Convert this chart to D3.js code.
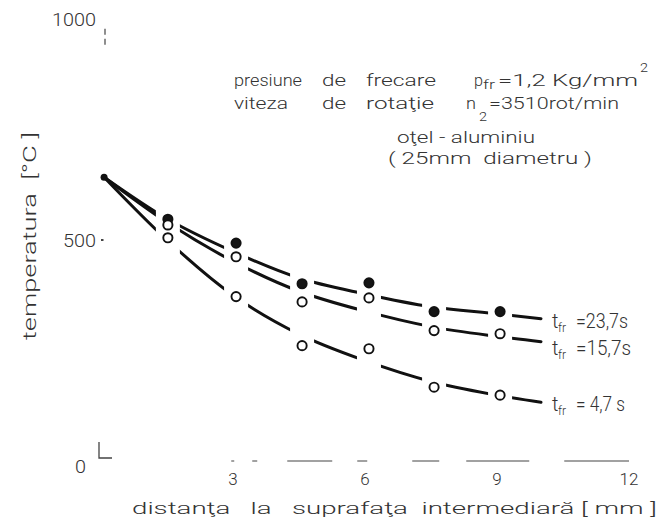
<!DOCTYPE html>
<html><head><meta charset="utf-8">
<script src="https://cdn.jsdelivr.net/npm/d3@7"></script>
<style>
body{margin:0;background:#fff}
svg{display:block}
text{font-family:Roboto,"Liberation Sans","DejaVu Sans",sans-serif;font-weight:300;fill:#333;white-space:pre}
</style>
</head><body>
<svg id="chart" width="661" height="530"></svg>
<script>
// distance from the interface surface, mm, where temperature was measured
const markerX = [1.52, 3.07, 4.57, 6.09, 7.57, 9.07];
// measured temperatures, °C, for each friction time
const measured237 = [547, 493, 401, 403, 338, 338];
const measured157 = [534, 462, 360, 369, 295, 288];
const measured47  = [505, 372, 261, 254, 167, 149];
// smoothed curves drawn through the measurements
const curveX    = [0.07, 1.5, 3, 4.5, 6, 7.5, 9, 10];
const fitted237 = [642, 548, 474, 414, 378, 349, 333, 322];
const fitted157 = [642, 540, 452, 384, 339, 304, 282, 270];
const fitted47  = [642, 500, 375, 287, 227, 180, 149, 133];
const seriesLabels = ["=23,7s", "=15,7s", "= 4,7 s"];
const xTickValues = [3, 6, 9, 12];
const yTickValues = [0, 500, 1000];

const svg = d3.select("#chart");
const x = d3.scaleLinear().domain([0, 12]).range([101, 629]);
const y = d3.scaleLinear().domain([0, 1000]).range([461, 19]);

const series = [
  {fit: fitted237, pts: measured237, filled: true,  label: seriesLabels[0], dy: 9,  tl: 52},
  {fit: fitted157, pts: measured157, filled: false, label: seriesLabels[1], dy: 13, tl: 55},
  {fit: fitted47,  pts: measured47,  filled: false, label: seriesLabels[2], dy: 9,  tl: 49}
];

// ---- axes (faint, broken as on the printed plate) ----
const ax = svg.append("g").attr("stroke", "#444").attr("fill", "none");
// x axis baseline, fragmented
ax.append("line")
  .attr("x1", x(2.96)).attr("x2", x(12)).attr("y1", y(0)).attr("y2", y(0))
  .attr("stroke-width", 1.2)
  .attr("stroke-dasharray", "3,18,5,30,45,25,10,45,27,27,63,35,65");
// origin corner
ax.append("path")
  .attr("d", `M${x(0) - 2},${y(0) - 19}V${y(0) - 3}H${x(0) + 11}`)
  .attr("stroke-width", 1.3);
// y axis fragments near the 1000 and 500 ticks
ax.append("line")
  .attr("x1", x(0) + 4).attr("x2", x(0) + 4)
  .attr("y1", y(978)).attr("y2", y(938))
  .attr("stroke-width", 1.2).attr("stroke-dasharray", "6,4");
ax.append("line")
  .attr("x1", x(0)).attr("x2", x(0) + 2.5)
  .attr("y1", y(500)).attr("y2", y(500)).attr("stroke-width", 2);

// tick labels
svg.append("g").selectAll("text").data(xTickValues).join("text")
  .attr("x", d => x(d)).attr("y", y(0) + 24)
  .attr("text-anchor", "middle").attr("font-size", 17)
  .text(d => d);
const yLab = svg.append("g").selectAll("text").data(yTickValues).join("text")
  .attr("x", d => d === 0 ? x(0) - 15 : x(0) - 5)
  .attr("y", d => y(d) + (d === 0 ? 12 : 7))
  .attr("text-anchor", "end").attr("font-size", 19)
  .text(d => d);
yLab.each(function (d) {
  d3.select(this).attr("textLength", String(d).length * 11).attr("lengthAdjust", "spacingAndGlyphs");
});

// axis titles
svg.append("text")
  .attr("transform", "translate(36,236) rotate(-90)")
  .attr("text-anchor", "middle").attr("font-size", 18)
  .attr("textLength", 208).attr("lengthAdjust", "spacingAndGlyphs")
  .text("temperatura  [°C ]");
svg.append("text")
  .attr("x", 132).attr("y", 514).attr("font-size", 17)
  .attr("textLength", 525).attr("lengthAdjust", "spacingAndGlyphs")
  .text("distanţa   la   suprafaţa  intermediară [ mm ]");

// ---- curves with gaps around the measured points ----
const line = d3.line().x(d => x(d[0])).y(d => y(d[1])).curve(d3.curveMonotoneX);
const defs = svg.append("defs");
const gap = 12;

series.forEach((s, i) => {
  const cp = defs.append("clipPath").attr("id", "gaps" + i);
  const cuts = [x(curveX[0]) - 4];
  markerX.forEach(m => { cuts.push(x(m) - gap, x(m) + gap); });
  cuts.push(x(curveX[curveX.length - 1]) + 2);
  for (let k = 0; k < cuts.length; k += 2) {
    cp.append("rect").attr("x", cuts[k]).attr("y", 0)
      .attr("width", cuts[k + 1] - cuts[k]).attr("height", 530);
  }
  svg.append("path")
    .datum(curveX.map((cx, j) => [cx, s.fit[j]]))
    .attr("d", line)
    .attr("clip-path", `url(#gaps${i})`)
    .attr("fill", "none").attr("stroke", "#111")
    .attr("stroke-width", 3).attr("stroke-linecap", "round");
});

// common starting point at the interface
svg.append("circle")
  .attr("cx", x(curveX[0])).attr("cy", y(fitted237[0])).attr("r", 3.5)
  .attr("fill", "#111");

// measured points
series.forEach(s => {
  svg.append("g").selectAll("circle")
    .data(markerX.map((m, j) => [m, s.pts[j]])).join("circle")
    .attr("cx", d => x(d[0])).attr("cy", d => y(d[1])).attr("r", 4.6)
    .attr("fill", s.filled ? "#151515" : "#fff")
    .attr("stroke", "#111").attr("stroke-width", 1.9);
});

// series labels t_fr = ...
series.forEach(s => {
  const endX = curveX[curveX.length - 1];
  const endY = s.fit[s.fit.length - 1];
  const bx = x(endX) + 11, by = y(endY) + s.dy;
  const t = svg.append("text").attr("font-size", 20);
  t.append("tspan").attr("x", bx).attr("y", by).text("t");
  t.append("tspan").attr("x", bx + 6).attr("y", by + 4).attr("font-size", 12).text("fr");
  t.append("tspan").attr("x", bx + 24).attr("y", by)
    .attr("textLength", s.tl).attr("lengthAdjust", "spacingAndGlyphs").text(s.label);
});

// test conditions
const note = svg.append("g").attr("font-size", 17);
function chunk(str, px, py, len, size) {
  const t = note.append("text").attr("x", px).attr("y", py).text(str);
  if (len) t.attr("textLength", len).attr("lengthAdjust", "spacingAndGlyphs");
  if (size) t.attr("font-size", size);
  return t;
}
chunk("presiune", 234, 86, 68);
chunk("de", 322, 86, 24);
chunk("frecare", 366, 86, 70);
chunk("p", 474, 86, 9);
chunk("fr", 483, 89, 12, 12);
chunk("=1,2 Kg/mm", 498, 86, 140);
chunk("2", 640, 72, 8, 13);
chunk("viteza", 234, 109, 54);
chunk("de", 322, 109, 24);
chunk("rotaţie", 366, 109, 68);
chunk("n", 466, 109, 10);
chunk("2", 479, 121, 8, 13);
chunk("=3510rot/min", 489, 109, 130);
chunk("oţel - aluminiu", 397, 143, 138);
chunk("( 25mm  diametru )", 388, 164, 204);
</script>
</body></html>
